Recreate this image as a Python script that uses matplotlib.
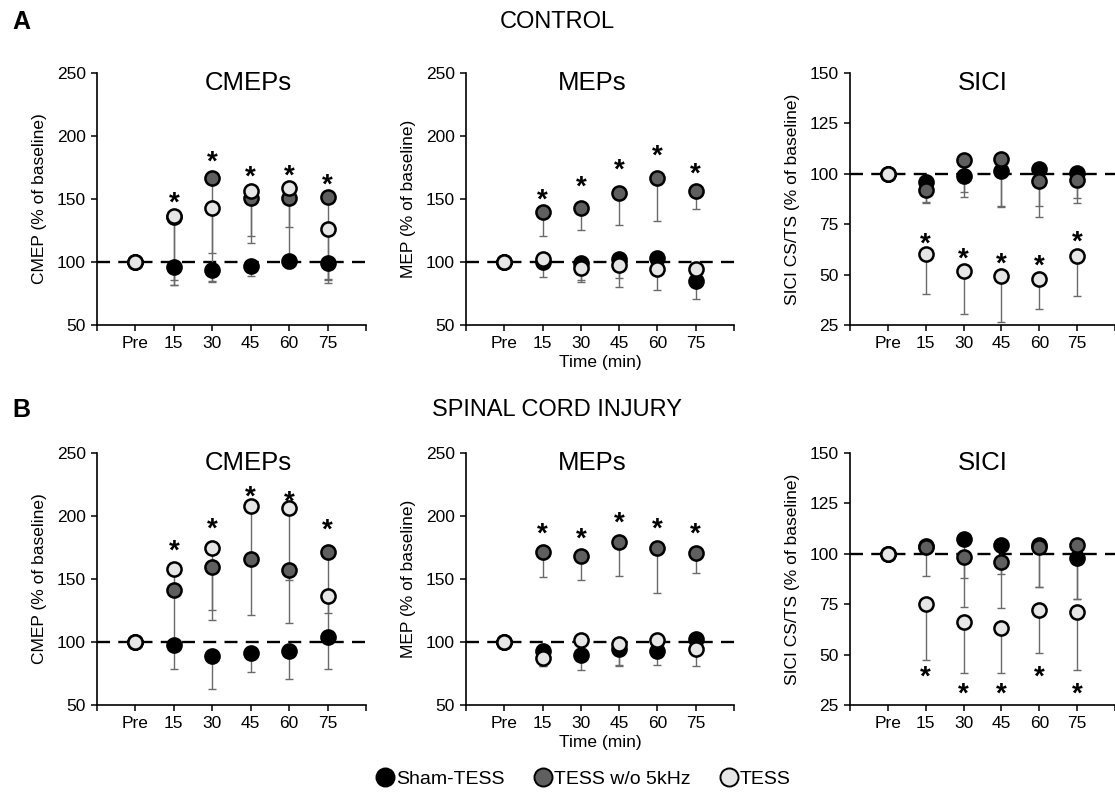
import matplotlib
matplotlib.use("Agg")
import matplotlib.pyplot as plt
from matplotlib.lines import Line2D

plt.rcParams['font.family'] = ['Liberation Sans', 'DejaVu Sans']

time_labels = ["Pre", "15", "30", "45", "60", "75"]
series_names = ["Sham-TESS", "TESS w/o 5kHz", "TESS"]
series_colors = ["#000000", "#5f5f5f", "#e6e6e6"]

# ---- A: CONTROL ----
a_cmep_sham = [100, 96, 94, 97, 101, 99]
a_cmep_sham_err = [0, 14, 10, 8, 6, 13]
a_cmep_wo = [100, 136, 166.5, 151, 151, 151.5]
a_cmep_wo_err = [0, 50, 59, 36, 55, 65]
a_cmep_tess = [100, 136.5, 143, 156.5, 159, 126.5]
a_cmep_tess_err = [0, 55, 58, 35.5, 31, 43.5]
a_cmep_star = [153, 185.5, 173.5, 174.5, 167.5]

a_mep_sham = [100, 100, 99.5, 102, 103.5, 85]
a_mep_sham_err = [0, 5, 14, 14.5, 8, 14]
a_mep_wo = [100, 139.3, 142.5, 155, 166.8, 156.2]
a_mep_wo_err = [0, 18.8, 17.2, 25.4, 34.4, 14.5]
a_mep_tess = [100, 102.6, 95.4, 97.8, 94.6, 94.6]
a_mep_tess_err = [0, 14.3, 11, 17.8, 17, 8]
a_mep_star = [155.4, 165.5, 178.7, 190.4, 176]

a_sici_sham = [100, 96, 98.7, 101.2, 102.5, 100.5]
a_sici_sham_err = [0, 9.8, 7.5, 17, 18.7, 12.6]
a_sici_wo = [100, 92, 107, 107.4, 96.2, 97]
a_sici_wo_err = [0, 6.6, 18.6, 24, 17.7, 11.6]
a_sici_tess = [100, 60, 51.8, 49.3, 47.7, 59.3]
a_sici_tess_err = [0, 19.8, 21.5, 23, 14.9, 19.9]
a_sici_star = [69.2, 61.4, 59.2, 58.1, 70]

# ---- B: SPINAL CORD INJURY ----
b_cmep_sham = [100, 97.6, 89.1, 91, 93.1, 103.7]
b_cmep_sham_err = [0, 19.3, 26.7, 15.1, 22.5, 25.4]
b_cmep_wo = [100, 141.3, 159.8, 165.9, 157.1, 171.7]
b_cmep_wo_err = [0, 43, 42.3, 44.5, 42.3, 48.9]
b_cmep_tess = [100, 157.7, 174.8, 208, 206, 136.8]
b_cmep_tess_err = [0, 18, 49.4, 40, 56.5, 32]
b_cmep_star = [178.3, 195.5, 221.2, 217.5, 194.7]

b_mep_sham = [100, 92.8, 89.4, 94.1, 92.8, 102]
b_mep_sham_err = [0, 12, 11.7, 12, 11, 5]
b_mep_wo = [100, 171.5, 168.1, 179.2, 174.7, 170.7]
b_mep_wo_err = [0, 19.8, 18.5, 27, 36.2, 15.7]
b_mep_tess = [100, 87.5, 101.5, 98.1, 101.5, 94.6]
b_mep_tess_err = [0, 6.5, 10, 17, 8, 13.7]
b_mep_star = [191.5, 188.1, 200.8, 195.5, 191.5]

b_sici_sham = [100, 104, 107.2, 104.4, 104.4, 97.7]
b_sici_sham_err = [0, 3, 19.1, 14.4, 21, 20.1]
b_sici_wo = [100, 103.2, 98.6, 95.8, 103.3, 104.4]
b_sici_wo_err = [0, 14.1, 25.2, 22.5, 19.8, 26.8]
b_sici_tess = [100, 75.3, 66, 63.4, 71.9, 71.3]
b_sici_tess_err = [0, 28, 25.2, 22.6, 20.9, 28.8]
b_sici_star = [42.7, 34.1, 34.1, 42.7, 34.4]

W, H = 1115, 795
fig = plt.figure(figsize=(W / 100, H / 100), dpi=100)


def px_axes(left, top, right, bottom):
    return fig.add_axes([left / W, 1 - bottom / H, (right - left) / W, (bottom - top) / H])


panels = [
    ((97, 73, 366, 325), (50, 250), [50, 100, 150, 200, 250], "CMEP (% of baseline)", "CMEPs", 3.95,
     [(a_cmep_sham, a_cmep_sham_err), (a_cmep_wo, a_cmep_wo_err), (a_cmep_tess, a_cmep_tess_err)], a_cmep_star, None),
    ((466, 73, 734, 325), (50, 250), [50, 100, 150, 200, 250], "MEP (% of baseline)", "MEPs", 3.3,
     [(a_mep_sham, a_mep_sham_err), (a_mep_wo, a_mep_wo_err), (a_mep_tess, a_mep_tess_err)], a_mep_star, "Time (min)"),
    ((850, 73, 1115, 325), (25, 150), [25, 50, 75, 100, 125, 150], "SICI CS/TS (% of baseline)", "SICI", 3.5,
     [(a_sici_sham, a_sici_sham_err), (a_sici_wo, a_sici_wo_err), (a_sici_tess, a_sici_tess_err)], a_sici_star, None),
    ((97, 453, 366, 705), (50, 250), [50, 100, 150, 200, 250], "CMEP (% of baseline)", "CMEPs", 3.95,
     [(b_cmep_sham, b_cmep_sham_err), (b_cmep_wo, b_cmep_wo_err), (b_cmep_tess, b_cmep_tess_err)], b_cmep_star, None),
    ((466, 453, 734, 705), (50, 250), [50, 100, 150, 200, 250], "MEP (% of baseline)", "MEPs", 3.3,
     [(b_mep_sham, b_mep_sham_err), (b_mep_wo, b_mep_wo_err), (b_mep_tess, b_mep_tess_err)], b_mep_star, "Time (min)"),
    ((850, 453, 1115, 705), (25, 150), [25, 50, 75, 100, 125, 150], "SICI CS/TS (% of baseline)", "SICI", 3.5,
     [(b_sici_sham, b_sici_sham_err), (b_sici_wo, b_sici_wo_err), (b_sici_tess, b_sici_tess_err)], b_sici_star, None),
]

xpos = list(range(1, len(time_labels) + 1))

for box, ylim, yticks, ylabel, title, title_x, series, stars, xlabel in panels:
    ax = px_axes(*box)
    ax.set_xlim(0, len(time_labels) + 1)
    ax.set_ylim(*ylim)
    for s in ("top", "right"):
        ax.spines[s].set_visible(False)
    for s in ("left", "bottom"):
        ax.spines[s].set_linewidth(1.2)
    ax.set_xticks(range(0, len(time_labels) + 2))
    ax.set_xticklabels([""] + time_labels + [""])
    ax.set_yticks(yticks)
    ax.tick_params(axis="both", direction="out", length=4, width=1.1, labelsize=12.5, pad=4)
    ax.set_ylabel(ylabel, fontsize=12.5, labelpad=7)
    if xlabel:
        ax.set_xlabel(xlabel, fontsize=12.5, labelpad=3)
    ax.axhline(100, color="black", lw=1.7, dashes=(5.5, 3.5), zorder=1)
    for (vals, errs) in series:
        ax.errorbar(xpos, vals, yerr=[errs, [0] * len(errs)], fmt="none", ecolor="#6a6a6a",
                    elinewidth=1.0, capsize=3, capthick=1.0, zorder=2)
    for (vals, errs), col in zip(series, series_colors):
        ax.plot(xpos, vals, linestyle="none", marker="o", markersize=10.2, markerfacecolor=col,
                markeredgecolor="black", markeredgewidth=1.8, zorder=3)
    for xi, yv in zip(xpos[1:], stars):
        ax.annotate("*", (xi, yv), xytext=(0, -11), textcoords="offset points",
                    ha="center", va="baseline", fontsize=20, fontweight="bold", zorder=4)
    ax.text(title_x, ylim[1] - (ylim[1] - ylim[0]) * 0.04, title, ha="center", va="center", fontsize=18.5)

fig.text(12 / W, 1 - 22 / H, "A", fontsize=18, fontweight="bold", ha="left", va="center")
fig.text(557 / W, 1 - 22 / H, "CONTROL", fontsize=17, ha="center", va="center")
fig.text(12 / W, 1 - 410 / H, "B", fontsize=18, fontweight="bold", ha="left", va="center")
fig.text(557 / W, 1 - 410 / H, "SPINAL CORD INJURY", fontsize=17, ha="center", va="center")

handles = [Line2D([], [], linestyle="none", marker="o", markersize=13, markerfacecolor=c,
                  markeredgecolor="black", markeredgewidth=1.4) for c in series_colors]
fig.legend(handles, series_names, loc="center", bbox_to_anchor=(583 / W, 1 - 779 / H), ncol=3,
           frameon=False, fontsize=14, handletextpad=0.05, columnspacing=1.5, handlelength=1.0,
           borderpad=0)

fig.savefig("out.png", dpi=100)
